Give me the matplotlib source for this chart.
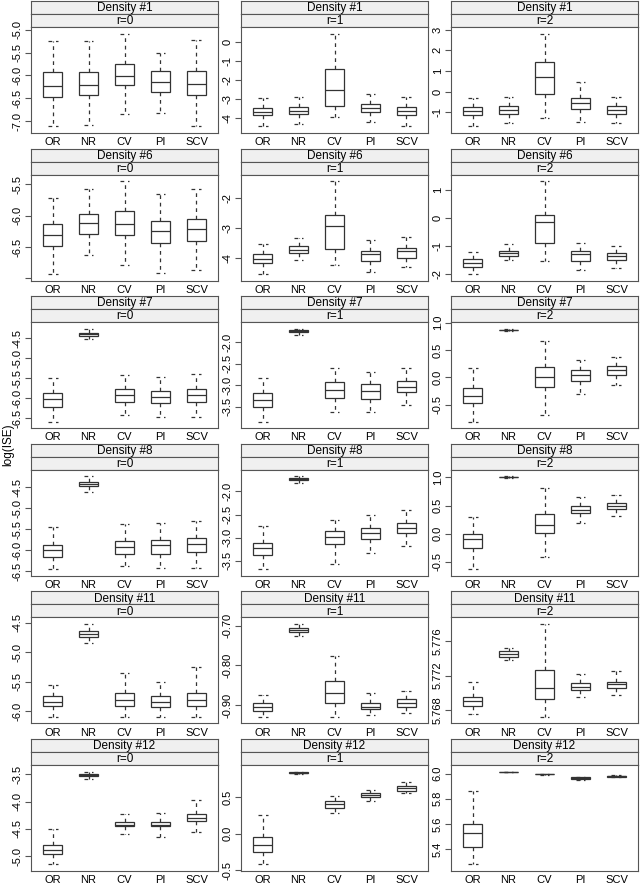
import matplotlib.pyplot as plt

plt.rcParams["font.family"] = ["Liberation Sans", "DejaVu Sans"]

methods = ["OR", "NR", "CV", "PI", "SCV"]
densities = ["Density #1", "Density #6", "Density #7", "Density #8", "Density #11", "Density #12"]
orders = ["r=0", "r=1", "r=2"]

# each row: lower whisker, Q1, median, Q3, upper whisker (OR, NR, CV, PI, SCV)
d1_r0 = [[-7.12, -6.47, -6.23, -5.93, -5.25], [-7.09, -6.42, -6.21, -5.93, -5.25],
         [-6.84, -6.21, -6.01, -5.74, -5.08], [-6.82, -6.36, -6.15, -5.91, -5.50],
         [-7.12, -6.42, -6.18, -5.91, -5.23]]
d1_r1 = [[-4.47, -3.88, -3.70, -3.47, -2.95], [-4.33, -3.82, -3.63, -3.42, -2.89],
         [-3.98, -3.40, -2.56, -1.40, 0.46], [-4.23, -3.72, -3.51, -3.28, -2.75],
         [-4.44, -3.84, -3.65, -3.42, -2.91]]
d1_r2 = [[-1.69, -1.15, -0.94, -0.75, -0.31], [-1.53, -1.07, -0.87, -0.68, -0.26],
         [-1.26, -0.14, 0.72, 1.42, 2.81], [-1.45, -0.86, -0.54, -0.31, 0.48],
         [-1.53, -1.07, -0.87, -0.71, -0.28]]
d6_r0 = [[-6.93, -6.48, -6.31, -6.14, -5.72], [-6.63, -6.29, -6.12, -5.98, -5.57],
         [-6.79, -6.30, -6.14, -5.92, -5.45], [-6.92, -6.43, -6.25, -6.09, -5.65],
         [-6.87, -6.40, -6.22, -6.05, -5.57]]
d6_r1 = [[-4.52, -4.15, -4.01, -3.87, -3.53], [-4.04, -3.83, -3.73, -3.61, -3.33],
         [-4.21, -3.70, -2.94, -2.57, -1.46], [-4.46, -4.08, -3.86, -3.75, -3.39],
         [-4.28, -3.98, -3.77, -3.67, -3.29]]
d6_r2 = [[-2.00, -1.74, -1.60, -1.45, -1.20], [-1.51, -1.35, -1.25, -1.18, -0.94],
         [-1.55, -0.88, -0.15, 0.11, 1.31], [-1.87, -1.54, -1.30, -1.18, -0.89],
         [-1.80, -1.49, -1.35, -1.24, -0.99]]
d7_r0 = [[-6.59, -6.22, -6.01, -5.88, -5.50], [-4.53, -4.45, -4.40, -4.36, -4.26],
         [-6.43, -6.10, -5.93, -5.78, -5.43], [-6.48, -6.13, -5.96, -5.82, -5.46],
         [-6.48, -6.10, -5.93, -5.78, -5.40]]
d7_r1 = [[-3.85, -3.50, -3.35, -3.19, -2.82], [-1.82, -1.76, -1.74, -1.72, -1.68],
         [-3.62, -3.29, -3.12, -2.92, -2.59], [-3.62, -3.31, -3.14, -2.98, -2.68],
         [-3.46, -3.15, -3.04, -2.89, -2.60]]
d7_r2 = [[-0.81, -0.47, -0.34, -0.20, 0.18], [0.85, 0.865, 0.87, 0.875, 0.89],
         [-0.68, -0.18, 0.01, 0.19, 0.66], [-0.30, -0.06, 0.05, 0.13, 0.32],
         [-0.14, 0.05, 0.14, 0.21, 0.37]]
d8_r0 = [[-6.45, -6.15, -5.99, -5.87, -5.45], [-4.61, -4.47, -4.42, -4.38, -4.24],
         [-6.37, -6.09, -5.91, -5.78, -5.37], [-6.42, -6.08, -5.88, -5.75, -5.34],
         [-6.42, -6.03, -5.85, -5.70, -5.30]]
d8_r1 = [[-3.69, -3.38, -3.23, -3.12, -2.74], [-1.81, -1.76, -1.73, -1.71, -1.67],
         [-3.58, -3.15, -2.99, -2.85, -2.61], [-3.34, -3.04, -2.91, -2.80, -2.51],
         [-3.18, -2.91, -2.80, -2.69, -2.41]]
d8_r2 = [[-0.63, -0.26, -0.10, -0.01, 0.30], [0.99, 1.0, 1.005, 1.01, 1.02],
         [-0.41, 0.02, 0.16, 0.35, 0.82], [0.20, 0.37, 0.43, 0.50, 0.65],
         [0.32, 0.44, 0.49, 0.55, 0.68]]
d11_r0 = [[-6.10, -5.92, -5.85, -5.75, -5.55], [-4.85, -4.74, -4.69, -4.64, -4.52],
          [-6.10, -5.92, -5.82, -5.70, -5.35], [-6.10, -5.93, -5.85, -5.74, -5.50],
          [-6.10, -5.92, -5.82, -5.70, -5.25]]
d11_r1 = [[-0.93, -0.915, -0.905, -0.895, -0.875], [-0.725, -0.715, -0.71, -0.705, -0.695],
          [-0.93, -0.895, -0.87, -0.84, -0.775], [-0.925, -0.91, -0.905, -0.895, -0.87],
          [-0.92, -0.905, -0.895, -0.885, -0.865]]
d11_r2 = [[5.7675, 5.7685, 5.7690, 5.7695, 5.7712], [5.7738, 5.7742, 5.7745, 5.7748, 5.7752],
          [5.7672, 5.7693, 5.7705, 5.7727, 5.7780], [5.7695, 5.7703, 5.7707, 5.7711, 5.7722],
          [5.7698, 5.7706, 5.7710, 5.7713, 5.7725]]
d12_r0 = [[-5.15, -4.95, -4.88, -4.80, -4.50], [-3.58, -3.54, -3.52, -3.50, -3.45],
          [-4.60, -4.45, -4.42, -4.38, -4.22], [-4.65, -4.45, -4.42, -4.37, -4.20],
          [-4.55, -4.35, -4.30, -4.22, -3.98]]
d12_r1 = [[-0.42, -0.25, -0.15, -0.05, 0.25], [0.82, 0.83, 0.835, 0.84, 0.85],
          [0.28, 0.35, 0.40, 0.45, 0.52], [0.45, 0.50, 0.53, 0.56, 0.60],
          [0.55, 0.59, 0.62, 0.65, 0.70]]
d12_r2 = [[5.28, 5.42, 5.53, 5.60, 5.86], [6.010, 6.012, 6.013, 6.014, 6.016],
          [5.990, 5.995, 5.997, 5.999, 6.000], [5.950, 5.960, 5.965, 5.970, 5.975],
          [5.970, 5.975, 5.978, 5.981, 5.985]]

panels = [[d1_r0, d1_r1, d1_r2], [d6_r0, d6_r1, d6_r2], [d7_r0, d7_r1, d7_r2],
          [d8_r0, d8_r1, d8_r2], [d11_r0, d11_r1, d11_r2], [d12_r0, d12_r1, d12_r2]]

# y tick labels per panel (None = tick without label)
yticks = [
    [["-5.0", "-5.5", "-6.0", "-6.5", "-7.0"], ["0", "-1", "-2", "-3", "-4"], ["3", "2", "1", "0", "-1"]],
    [["-5.5", "-6.0", "-6.5", None], ["-2", "-3", "-4"], ["1", "0", "-1", "-2"]],
    [["-4.5", "-5.0", "-5.5", "-6.0", "-6.5"], ["-2.0", "-2.5", "-3.0", "-3.5"], ["1.0", "0.5", "0.0", "-0.5"]],
    [["-4.5", "-5.0", "-5.5", "-6.0", "-6.5"], ["-2.0", "-2.5", "-3.0", "-3.5"], ["1.0", "0.5", "0.0", "-0.5"]],
    [["-4.5", "-5.0", "-5.5", "-6.0"], ["-0.70", "-0.80", "-0.90"], ["5.768", "5.772", "5.776"]],
    [["-3.5", "-4.0", "-4.5", "-5.0"], ["0.5", "0.0", "-0.5"], ["6.0", "5.8", "5.6", "5.4"]],
]
ytick_vals = [
    [[-5.0, -5.5, -6.0, -6.5, -7.0], [0, -1, -2, -3, -4], [3, 2, 1, 0, -1]],
    [[-5.5, -6.0, -6.5, -7.0], [-2, -3, -4], [1, 0, -1, -2]],
    [[-4.5, -5.0, -5.5, -6.0, -6.5], [-2.0, -2.5, -3.0, -3.5], [1.0, 0.5, 0.0, -0.5]],
    [[-4.5, -5.0, -5.5, -6.0, -6.5], [-2.0, -2.5, -3.0, -3.5], [1.0, 0.5, 0.0, -0.5]],
    [[-4.5, -5.0, -5.5, -6.0], [-0.70, -0.80, -0.90], [5.768, 5.772, 5.776]],
    [[-3.5, -4.0, -4.5, -5.0], [0.5, 0.0, -0.5], [6.0, 5.8, 5.6, 5.4]],
]

W, H = 640, 890
fig = plt.figure(figsize=(6.4, 8.9), dpi=100)


def px_axes(x, y, w, h):
    return fig.add_axes([x / W, 1 - (y + h) / H, w / W, h / H])


col_x = [31, 241, 451]
row_step = 147.6
pw, sh, ph = 187, 13, 106
line_c = "#333333"
frame_c = "#555555"

for i in range(6):
    for j in range(3):
        data = panels[i][j]
        x0, y0 = col_x[j], 1 + i * row_step
        for k, label in enumerate([densities[i], orders[j]]):
            s = px_axes(x0, y0 + k * sh, pw, sh)
            s.set_facecolor("#f0f0f0")
            s.set_xticks([])
            s.set_yticks([])
            for sp in s.spines.values():
                sp.set_color(frame_c)
                sp.set_linewidth(0.8)
            s.text(0.5, 0.45, label, ha="center", va="center", fontsize=8.5, transform=s.transAxes)

        ax = px_axes(x0, y0 + 2 * sh, pw, ph)
        stats = [dict(whislo=d[0], q1=d[1], med=d[2], q3=d[3], whishi=d[4], fliers=[]) for d in data]
        ax.bxp(stats, positions=range(1, 6), widths=0.55, showfliers=False, patch_artist=True,
               boxprops=dict(facecolor="white", edgecolor=line_c, linewidth=0.9),
               whiskerprops=dict(color=line_c, linestyle=(0, (3, 3)), linewidth=0.9),
               capprops=dict(color=line_c, linestyle=(0, (3, 3)), linewidth=0.9),
               medianprops=dict(color=line_c, linewidth=0.9))
        lo = min(d[0] for d in data)
        hi = max(d[4] for d in data)
        pad = 0.07 * (hi - lo)
        ax.set_ylim(lo - pad, hi + pad)
        ax.set_xlim(0.4, 5.6)
        ax.set_xticks(range(1, 6))
        ax.set_xticklabels(methods, fontsize=8)
        ax.set_yticks(ytick_vals[i][j])
        ax.set_yticklabels([t if t else "" for t in yticks[i][j]], fontsize=8,
                           rotation=90, va="center")
        ax.tick_params(axis="x", length=0, pad=3)
        ax.tick_params(axis="y", length=4, width=0.8, color=frame_c, pad=2)
        for sp in ax.spines.values():
            sp.set_color(frame_c)
            sp.set_linewidth(0.8)

fig.text(8 / W, 1 - 445 / H, "log(ISE)", rotation=90, ha="center", va="center", fontsize=8.5)

fig.savefig("out.png", dpi=100)
